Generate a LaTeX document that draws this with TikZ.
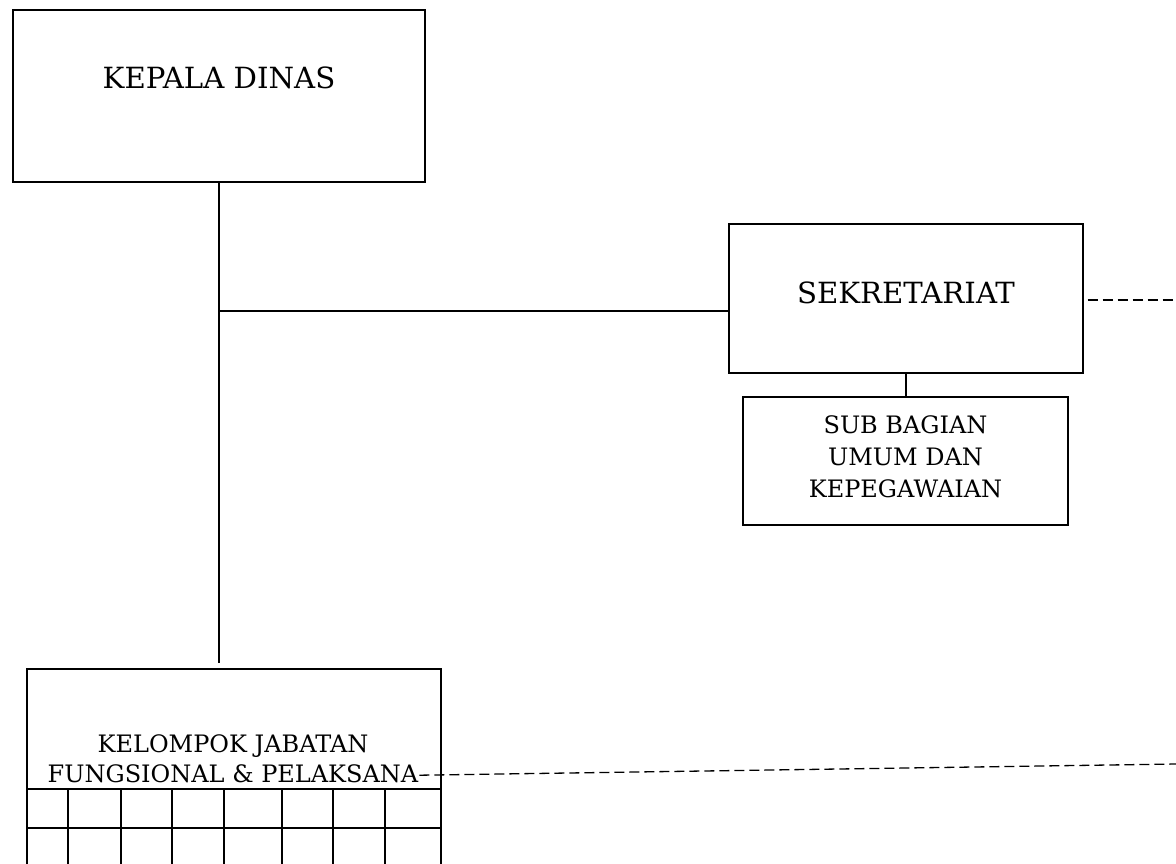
\documentclass[tikz,border=0pt]{standalone}
\usepackage{fontspec}
\setmainfont{DejaVu Serif}
\usetikzlibrary{positioning}

\begin{document}
\begin{tikzpicture}[x=1pt,y=-1pt,
    unitbox/.style={draw, rectangle, line width=1.3pt, inner sep=0pt},
    bigtext/.style={font=\fontsize{29.2}{34}\selectfont},
    smalltext/.style={font=\fontsize{24}{32}\selectfont, align=center},
    link/.style={line width=1.3pt},
    dashlink/.style={line width=1.3pt, dash pattern=on 10pt off 5pt}]
        \useasboundingbox (0,0) rectangle (1176,863);
        \clip (0,0) rectangle (1176,863);

        \node[unitbox, bigtext, minimum width=412pt, minimum height=172pt,
              text height=21pt, text depth=37pt] (kepala) at (219, 96) {KEPALA DINAS};
        \node[unitbox, bigtext, minimum width=354pt, minimum height=149pt,
              text height=21pt, text depth=12pt] (sekretariat) at (906, 298.5) {SEKRETARIAT};
        \node[unitbox, smalltext, line width=1.6pt, minimum width=325pt, minimum height=128pt,
              text height=81.5pt, text depth=9.5pt] (subbagian) at (905.5, 461) {SUB BAGIAN\\UMUM DAN\\KEPEGAWAIAN};

        \node[unitbox, line width=2pt, anchor=north west, minimum width=414pt, minimum height=240pt] (kelompok) at (26, 668) {};
        \node[font=\fontsize{24}{30}\selectfont, align=center, inner sep=1pt,
              text height=47.5pt, text depth=0pt] (kelompoklabel) at (233, 758.25) {KELOMPOK JABATAN\\FUNGSIONAL \& PELAKSANA};

        \foreach \y in {789, 828, 867}
            \draw[line width=2pt] (26, \y) -- (440, \y);
        \foreach \x in {68, 121, 172, 224, 282, 333, 385}
            \draw[line width=2pt] (\x, 789) -- (\x, 908);

        \coordinate (junction) at (219, 311);
        \coordinate (sekretariatfree) at (1176, 300);
        \coordinate (kelompokfree) at (1176, 764);

        \draw[link, shorten >=5pt] (kepala.south) -- (kepala.south |- kelompok.north);
        \draw[link] (junction) -- (junction -| sekretariat.west);
        \draw[link] (sekretariat.south) -- (sekretariat.south |- subbagian.north);

        \draw[dashlink] ([xshift=4pt]sekretariat.east |- sekretariatfree) -- (sekretariatfree);
        \draw[dashlink] ([yshift=8pt]kelompoklabel.south east) -- (kelompokfree);

    \end{tikzpicture}
\end{document}
